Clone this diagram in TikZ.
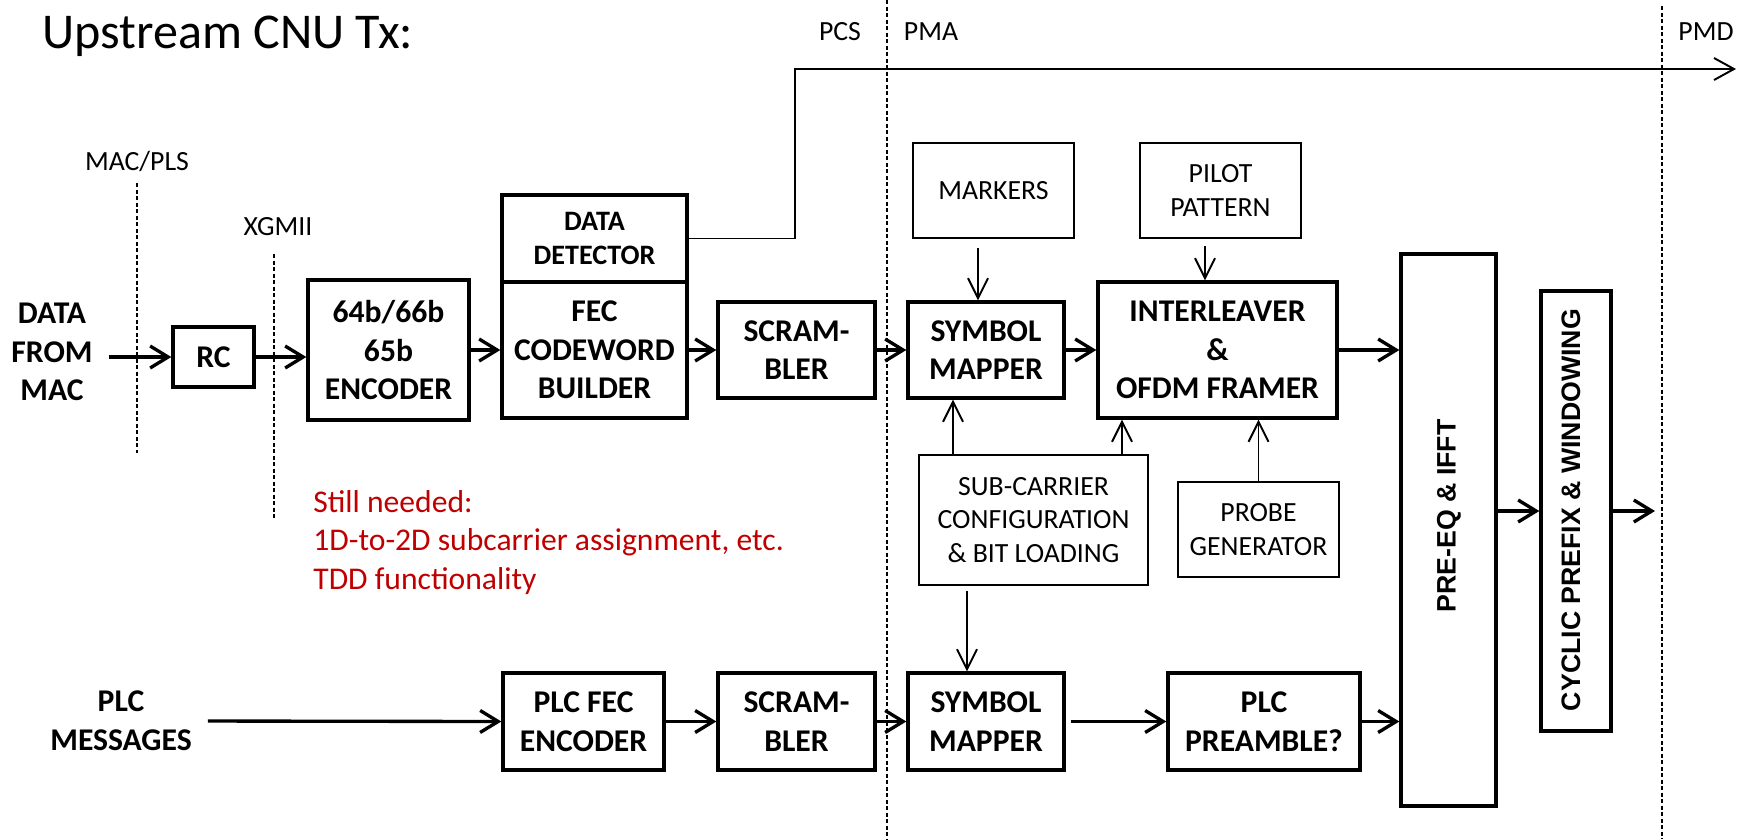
\documentclass[tikz,border=0pt]{standalone}
\usepackage{fontspec}
\setmainfont{Carlito}
\newfontfamily\vertfont{Liberation Sans}
\usetikzlibrary{arrows.meta}
\definecolor{notered}{RGB}{192,0,0}

\tikzset{
  blk/.style = {rectangle, draw, line width=1.9pt, align=center, inner sep=0pt,
                font=\fontsize{18}{22}\selectfont\bfseries},
  sblk/.style = {rectangle, draw, line width=1.1pt, align=center, inner sep=0pt,
                 font=\fontsize{15.8}{19}\selectfont},
  lbl/.style = {font=\fontsize{15.8}{19}\selectfont, inner sep=0pt},
  vtxt/.style = {rotate=90, font=\vertfont\fontsize{15.2}{18}\selectfont\bfseries},
  arr/.style = {-{Straight Barb[length=3.6mm,width=4.4mm]}, line width=1.9pt},
  sarr/.style = {-{Straight Barb[length=4mm,width=4mm]}, line width=1.1pt},
  layer/.style = {line width=0.6pt, dash pattern=on 0.8mm off 0.5mm},
}

\begin{document}
\begin{tikzpicture}[x=0.2mm, y=-0.2mm]

    \useasboundingbox (0,0) rectangle (1750,839);

    % layer boundaries
    \draw[layer] (137,183) -- (137,453);
    \draw[layer] (274,254) -- (274,520);
    \draw[layer] (887,0) -- (887,839);
    \draw[layer] (1662,6) -- (1662,839);

    \node[anchor=base west, inner sep=0pt,
          font=\fontsize{28.5}{32}\selectfont] (title) at (42,48) {Upstream CNU Tx:};
    \node[lbl, anchor=base] (pcs) at (840,40) {PCS};
    \node[lbl, anchor=base] (pma) at (931,40) {PMA};
    \node[lbl, anchor=base] (pmd) at (1706,40) {PMD};
    \node[lbl, anchor=base] (macpls) at (137,170) {MAC/PLS};
    \node[lbl, anchor=base] (xgmii) at (278,235) {XGMII};

    % upper (data) chain
    \node[align=center, font=\fontsize{18}{22}\selectfont\bfseries
          ] (datain) at (52,352) {DATA\\FROM\\MAC};

    \node[blk,
          minimum width = 16.2mm,
          minimum height = 12mm
          ] (rc) at (213.5,357) {RC};

    \node[blk,
          minimum width = 32.2mm,
          minimum height = 28mm
          ] (enc) at (388.5,350) {64b/66b\\65b\\ENCODER};

    \node[blk,
          minimum width = 37mm,
          minimum height = 17.4mm,
          font=\fontsize{16}{19.5}\selectfont\bfseries
          ] (det) at (594.5,238.5) {DATA\\DETECTOR};

    \node[blk,
          minimum width = 37mm,
          minimum height = 27.2mm
          ] (fec) at (594.5,350) {FEC\\CODEWORD\\BUILDER};

    \node[blk,
          minimum width = 31.4mm,
          minimum height = 19.2mm
          ] (scr) at (796.5,350) {SCRAM-\\BLER};

    \node[blk,
          minimum width = 31.2mm,
          minimum height = 19.2mm
          ] (sym) at (986,350) {SYMBOL\\MAPPER};

    \node[blk,
          minimum width = 47.8mm,
          minimum height = 27.2mm
          ] (intl) at (1217.5,350) {INTERLEAVER\\\&\\OFDM FRAMER};

    \node[sblk,
          minimum width = 32.2mm,
          minimum height = 19mm
          ] (mark) at (993.5,190.5) {MARKERS};

    \node[sblk,
          minimum width = 32.2mm,
          minimum height = 19mm
          ] (pilot) at (1220.5,190.5) {PILOT\\PATTERN};

    \node[sblk,
          minimum width = 45.8mm,
          minimum height = 26mm
          ] (subc) at (1033.5,520) {SUB-CARRIER\\CONFIGURATION\\\& BIT LOADING};

    \node[sblk,
          minimum width = 32.2mm,
          minimum height = 19mm
          ] (probe) at (1258.5,529.5) {PROBE\\GENERATOR};

    \node[blk,
          minimum width = 19mm,
          minimum height = 110.4mm
          ] (preeq) at (1448.5,530) {};
    \node[vtxt] at (1449,516) {PRE-EQ \& IFFT};

    \node[blk,
          minimum width = 14mm,
          minimum height = 88mm
          ] (cyc) at (1576,511) {};
    \node[vtxt] at (1571,510) {CYCLIC PREFIX \& WINDOWING};

    % lower (PLC) chain
    \node[align=center, font=\fontsize{18}{22}\selectfont\bfseries
          ] (plcin) at (121,721) {PLC\\MESSAGES};

    \node[blk,
          minimum width = 32.2mm,
          minimum height = 19.4mm
          ] (plcfec) at (583.5,721.5) {PLC FEC\\ENCODER};

    \node[blk,
          minimum width = 31.4mm,
          minimum height = 19.4mm
          ] (scrb) at (796.5,721.5) {SCRAM-\\BLER};

    \node[blk,
          minimum width = 31.2mm,
          minimum height = 19.4mm
          ] (symb) at (986,721.5) {SYMBOL\\MAPPER};

    \node[blk,
          minimum width = 38.4mm,
          minimum height = 19.4mm
          ] (pre) at (1264,721.5) {PLC\\PREAMBLE?};

    \node[anchor=base west, align=left, inner sep=0pt, text=notered,
          font=\fontsize{18}{21.9}\selectfont
          ] (todo) at (313,589) {Still needed:\\1D-to-2D subcarrier assignment, etc.\\TDD functionality};

    \coordinate (bend) at (795,69);
    \coordinate (pmdout) at (1736,69);
    \coordinate (out) at (1655,511);

    \path[arr]
    (datain.east |- rc.west) edge [shorten <=2mm] (rc.west)
    (rc.east) edge [] (rc.east -| enc.west)
    (enc) edge [] (fec)
    (fec) edge [] (scr)
    (scr) edge [] (sym)
    (sym) edge [] (intl)
    (intl.east) edge [] (intl.east -| preeq.west)
    (cyc.west -| preeq.east) edge [] (cyc.west)
    (cyc.east) edge [] (out)
    %PLC path
    (plcin.east) edge [shorten <=2mm] (plcfec.west)
    (plcfec) edge [] (scrb)
    (scrb) edge [] (symb)
    (symb) edge [shorten <=1mm] (pre)
    (pre.east) edge [] (pre.east -| preeq.west);

    \path[sarr]
    ([xshift=-3.1mm, yshift=-1.8mm]mark.south) edge [] ([xshift=-3.1mm]mark.south |- sym.north)
    ([xshift=-3.1mm, yshift=-1.4mm]pilot.south) edge [] ([xshift=-3.1mm]pilot.south |- intl.north)
    ([xshift=-16.1mm]subc.north) edge [] ([xshift=-16.1mm]subc.north |- sym.south)
    ([xshift=17.7mm]subc.north) edge [] ([xshift=17.7mm]subc.north |- intl.south)
    (probe.north) edge [] (probe.north |- intl.south)
    ([xshift=-13.3mm, yshift=-1mm]subc.south) edge [] ([xshift=-13.3mm]subc.south |- symb.north);

    \draw[-{Straight Barb[length=4mm,width=4.4mm]}, line width=1.1pt]
    (det.east) -| (bend) -- (pmdout);

\end{tikzpicture}
\end{document}
